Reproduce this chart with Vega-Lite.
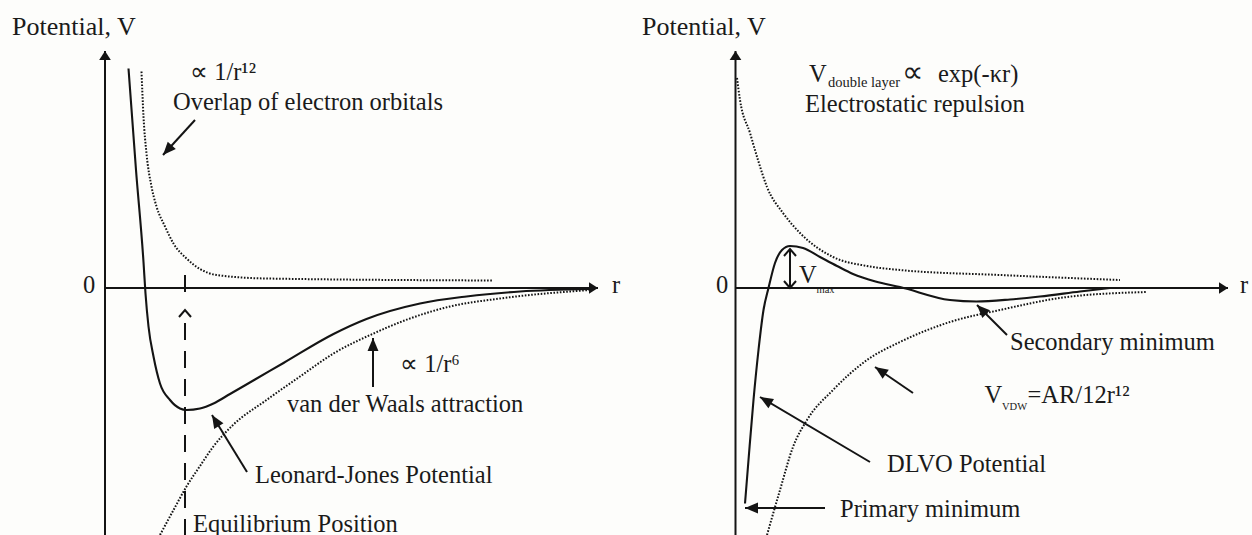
{
  "$schema": "https://vega.github.io/schema/vega-lite/v6.json",
  "background": "#fdfdfb",
  "padding": 0,
  "spacing": 0,
  "bounds": "flush",
  "config": {
    "view": {"stroke": null},
    "text": {"font": "Liberation Serif", "fontSize": 24.5, "color": "#1a1a1a", "align": "left", "baseline": "alphabetic"},
    "line": {"color": "#141414"},
    "rule": {"color": "#141414"},
    "point": {"color": "#141414", "opacity": 1}
  },
  "datasets": {
    "ljCurves": [
      {"curve": "Leonard-Jones", "r": 0.47, "V": 4.39},
      {"curve": "Leonard-Jones", "r": 0.62, "V": 2.36},
      {"curve": "Leonard-Jones", "r": 0.77, "V": 0.52},
      {"curve": "Leonard-Jones", "r": 0.81, "V": -0.11},
      {"curve": "Leonard-Jones", "r": 0.87, "V": -0.77},
      {"curve": "Leonard-Jones", "r": 0.97, "V": -1.37},
      {"curve": "Leonard-Jones", "r": 1.10, "V": -1.91},
      {"curve": "Leonard-Jones", "r": 1.30, "V": -2.24},
      {"curve": "Leonard-Jones", "r": 1.50, "V": -2.41},
      {"curve": "Leonard-Jones", "r": 1.63, "V": -2.44},
      {"curve": "Leonard-Jones", "r": 1.90, "V": -2.41},
      {"curve": "Leonard-Jones", "r": 2.17, "V": -2.31},
      {"curve": "Leonard-Jones", "r": 2.50, "V": -2.12},
      {"curve": "Leonard-Jones", "r": 3.00, "V": -1.83},
      {"curve": "Leonard-Jones", "r": 3.57, "V": -1.50},
      {"curve": "Leonard-Jones", "r": 4.57, "V": -0.92},
      {"curve": "Leonard-Jones", "r": 5.23, "V": -0.62},
      {"curve": "Leonard-Jones", "r": 6.30, "V": -0.31},
      {"curve": "Leonard-Jones", "r": 7.23, "V": -0.17},
      {"curve": "Leonard-Jones", "r": 8.30, "V": -0.07},
      {"curve": "Leonard-Jones", "r": 9.70, "V": -0.02},
      {"curve": "repulsion", "r": 0.73, "V": 4.33},
      {"curve": "repulsion", "r": 0.77, "V": 3.43},
      {"curve": "repulsion", "r": 0.83, "V": 2.69},
      {"curve": "repulsion", "r": 0.93, "V": 2.03},
      {"curve": "repulsion", "r": 1.03, "V": 1.63},
      {"curve": "repulsion", "r": 1.20, "V": 1.23},
      {"curve": "repulsion", "r": 1.37, "V": 0.89},
      {"curve": "repulsion", "r": 1.63, "V": 0.59},
      {"curve": "repulsion", "r": 1.90, "V": 0.38},
      {"curve": "repulsion", "r": 2.23, "V": 0.26},
      {"curve": "repulsion", "r": 3.23, "V": 0.19},
      {"curve": "repulsion", "r": 7.77, "V": 0.15},
      {"curve": "attraction", "r": 1.10, "V": -4.94},
      {"curve": "attraction", "r": 1.37, "V": -4.44},
      {"curve": "attraction", "r": 1.63, "V": -3.97},
      {"curve": "attraction", "r": 1.90, "V": -3.56},
      {"curve": "attraction", "r": 2.16, "V": -3.18},
      {"curve": "attraction", "r": 2.56, "V": -2.74},
      {"curve": "attraction", "r": 3.23, "V": -2.24},
      {"curve": "attraction", "r": 3.90, "V": -1.77},
      {"curve": "attraction", "r": 4.57, "V": -1.31},
      {"curve": "attraction", "r": 5.37, "V": -0.91},
      {"curve": "attraction", "r": 6.10, "V": -0.61},
      {"curve": "attraction", "r": 6.90, "V": -0.37},
      {"curve": "attraction", "r": 7.90, "V": -0.21},
      {"curve": "attraction", "r": 9.70, "V": -0.04}
    ],
    "ljArrows": [
      {"id": "V axis", "r": 0, "V": -4.94, "r2": 0, "V2": 4.74},
      {"id": "r axis", "r": 0, "V": 0, "r2": 9.86, "V2": 0},
      {"id": "overlap", "r": 1.80, "V": 3.36, "r2": 1.16, "V2": 2.66},
      {"id": "van der Waals", "r": 5.36, "V": -1.98, "r2": 5.36, "V2": -1.0},
      {"id": "Leonard-Jones", "r": 2.84, "V": -3.68, "r2": 2.14, "V2": -2.54}
    ],
    "ljLabels": [
      {"t": "∝ 1/r¹²", "r": 1.70, "V": 4.16},
      {"t": "Overlap of electron orbitals", "r": 1.36, "V": 3.56},
      {"t": "∝ 1/r⁶", "r": 5.90, "V": -1.68},
      {"t": "van der Waals attraction", "r": 3.64, "V": -2.48},
      {"t": "Leonard-Jones Potential", "r": 3.0, "V": -3.9},
      {"t": "Equilibrium Position", "r": 1.76, "V": -4.87}
    ],
    "dlvoCurves": [
      {"curve": "DLVO", "r": 0.19, "V": -4.31},
      {"curve": "DLVO", "r": 0.26, "V": -3.44},
      {"curve": "DLVO", "r": 0.36, "V": -2.24},
      {"curve": "DLVO", "r": 0.46, "V": -1.24},
      {"curve": "DLVO", "r": 0.56, "V": -0.44},
      {"curve": "DLVO", "r": 0.66, "V": 0.0},
      {"curve": "DLVO", "r": 0.79, "V": 0.50},
      {"curve": "DLVO", "r": 0.93, "V": 0.76},
      {"curve": "DLVO", "r": 1.09, "V": 0.84},
      {"curve": "DLVO", "r": 1.35, "V": 0.80},
      {"curve": "DLVO", "r": 1.69, "V": 0.62},
      {"curve": "DLVO", "r": 2.03, "V": 0.44},
      {"curve": "DLVO", "r": 2.35, "V": 0.28},
      {"curve": "DLVO", "r": 2.80, "V": 0.13},
      {"curve": "DLVO", "r": 3.29, "V": 0.02},
      {"curve": "DLVO", "r": 4.29, "V": -0.24},
      {"curve": "DLVO", "r": 4.82, "V": -0.27},
      {"curve": "DLVO", "r": 5.49, "V": -0.23},
      {"curve": "DLVO", "r": 6.09, "V": -0.17},
      {"curve": "DLVO", "r": 6.89, "V": -0.07},
      {"curve": "DLVO", "r": 7.49, "V": 0.0},
      {"curve": "double layer", "r": 0.03, "V": 4.20},
      {"curve": "double layer", "r": 0.09, "V": 3.76},
      {"curve": "double layer", "r": 0.29, "V": 3.10},
      {"curve": "double layer", "r": 0.45, "V": 2.56},
      {"curve": "double layer", "r": 0.63, "V": 2.02},
      {"curve": "double layer", "r": 0.95, "V": 1.50},
      {"curve": "double layer", "r": 1.29, "V": 1.10},
      {"curve": "double layer", "r": 1.95, "V": 0.62},
      {"curve": "double layer", "r": 2.63, "V": 0.44},
      {"curve": "double layer", "r": 3.29, "V": 0.36},
      {"curve": "double layer", "r": 5.29, "V": 0.26},
      {"curve": "double layer", "r": 7.69, "V": 0.16},
      {"curve": "VDW", "r": 0.63, "V": -4.94},
      {"curve": "VDW", "r": 0.89, "V": -4.04},
      {"curve": "VDW", "r": 1.15, "V": -3.18},
      {"curve": "VDW", "r": 1.43, "V": -2.64},
      {"curve": "VDW", "r": 1.95, "V": -2.04},
      {"curve": "VDW", "r": 2.63, "V": -1.44},
      {"curve": "VDW", "r": 3.29, "V": -1.08},
      {"curve": "VDW", "r": 4.29, "V": -0.68},
      {"curve": "VDW", "r": 5.29, "V": -0.44},
      {"curve": "VDW", "r": 6.63, "V": -0.18},
      {"curve": "VDW", "r": 8.23, "V": -0.08}
    ],
    "dlvoArrows": [
      {"id": "V axis", "r": 0, "V": -4.94, "r2": 0, "V2": 4.74},
      {"id": "r axis", "r": 0, "V": 0, "r2": 9.85, "V2": 0},
      {"id": "V max", "r": 1.09, "V": 0.0, "r2": 1.09, "V2": 0.78},
      {"id": "Secondary minimum", "r": 5.43, "V": -0.94, "r2": 4.83, "V2": -0.34},
      {"id": "V VDW", "r": 3.55, "V": -2.10, "r2": 2.79, "V2": -1.58},
      {"id": "DLVO Potential", "r": 2.69, "V": -3.48, "r2": 0.49, "V2": -2.18},
      {"id": "Primary minimum", "r": 1.79, "V": -4.40, "r2": 0.19, "V2": -4.40}
    ],
    "dlvoLabels": [
      {"t": "V", "r": 1.47, "V": 4.12},
      {"t": "exp(-κr)", "r": 4.05, "V": 4.12},
      {"t": "Electrostatic repulsion", "r": 1.39, "V": 3.52},
      {"t": "V", "r": 1.27, "V": 0.10},
      {"t": "Secondary minimum", "r": 5.49, "V": -1.24},
      {"t": "V", "r": 4.98, "V": -2.30},
      {"t": "=AR/12r¹²", "r": 5.84, "V": -2.30},
      {"t": "DLVO Potential", "r": 3.03, "V": -3.68},
      {"t": "Primary minimum", "r": 2.09, "V": -4.58}
    ],
    "dlvoSubscripts": [
      {"t": "double layer", "r": 1.85, "V": 4.02, "size": "s"},
      {"t": "max", "r": 1.62, "V": -0.10, "size": "m"},
      {"t": "VDW", "r": 5.33, "V": -2.44, "size": "m"}
    ]
  },
  "hconcat": [
    {
      "width": 626,
      "height": 535,
      "encoding": {
        "x": {"field": "r", "type": "quantitative", "scale": {"domain": [-2.1, 10.42], "nice": false, "zero": false}, "axis": null},
        "y": {"field": "V", "type": "quantitative", "scale": {"domain": [-4.94, 5.76], "nice": false, "zero": false}, "axis": null}
      },
      "layer": [
        {
          "data": {"name": "ljCurves"},
          "transform": [{"filter": "datum.curve === 'Leonard-Jones'"}],
          "mark": {"type": "line", "strokeWidth": 2.1, "interpolate": "monotone"}
        },
        {
          "data": {"name": "ljCurves"},
          "transform": [{"filter": "datum.curve !== 'Leonard-Jones'"}],
          "mark": {"type": "line", "strokeWidth": 2, "strokeDash": [1.6, 1.6], "interpolate": "monotone"},
          "encoding": {"detail": {"field": "curve"}}
        },
        {
          "data": {"values": [
            {"r": 1.6, "V": 0.26, "r2": 1.6, "V2": -0.1},
            {"r": 1.6, "V": -0.7, "r2": 1.6, "V2": -4.94}
          ]},
          "mark": {"type": "rule", "strokeWidth": 2, "strokeDash": [17, 11]},
          "encoding": {"x2": {"field": "r2"}, "y2": {"field": "V2"}}
        },
        {
          "data": {"values": [{"r": 1.6, "V": -0.44}]},
          "mark": {"type": "point", "shape": "M-0.6,0.7L0,0L0.6,0.7", "filled": false, "size": 400, "strokeWidth": 2}
        },
        {
          "data": {"name": "ljArrows"},
          "mark": {"type": "rule", "strokeWidth": 2},
          "encoding": {"x2": {"field": "r2"}, "y2": {"field": "V2"}}
        },
        {
          "data": {"name": "ljArrows"},
          "transform": [{"filter": "datum.id === 'V axis'"}],
          "mark": {"type": "point", "shape": "M0,0L-0.65,1L0.65,1Z", "filled": true, "size": 324, "angle": 0},
          "encoding": {"x": {"field": "r2", "type": "quantitative"}, "y": {"field": "V2", "type": "quantitative"}}
        },
        {
          "data": {"name": "ljArrows"},
          "transform": [{"filter": "datum.id === 'r axis'"}],
          "mark": {"type": "point", "shape": "M0,0L-0.65,1L0.65,1Z", "filled": true, "size": 324, "angle": 90},
          "encoding": {"x": {"field": "r2", "type": "quantitative"}, "y": {"field": "V2", "type": "quantitative"}}
        },
        {
          "data": {"name": "ljArrows"},
          "transform": [{"filter": "datum.id === 'van der Waals'"}],
          "mark": {"type": "point", "shape": "M0,0L-0.42,1L0.42,1Z", "filled": true, "size": 676, "angle": 0},
          "encoding": {"x": {"field": "r2", "type": "quantitative"}, "y": {"field": "V2", "type": "quantitative"}}
        },
        {
          "data": {"name": "ljArrows"},
          "transform": [{"filter": "datum.id === 'overlap'"}],
          "mark": {"type": "point", "shape": "M0,0L-0.42,1L0.42,1Z", "filled": true, "size": 676, "angle": 222.4},
          "encoding": {"x": {"field": "r2", "type": "quantitative"}, "y": {"field": "V2", "type": "quantitative"}}
        },
        {
          "data": {"name": "ljArrows"},
          "transform": [{"filter": "datum.id === 'Leonard-Jones'"}],
          "mark": {"type": "point", "shape": "M0,0L-0.42,1L0.42,1Z", "filled": true, "size": 676, "angle": 328.4},
          "encoding": {"x": {"field": "r2", "type": "quantitative"}, "y": {"field": "V2", "type": "quantitative"}}
        },
        {
          "data": {"name": "ljLabels"},
          "mark": {"type": "text"},
          "encoding": {"text": {"field": "t"}}
        },
        {
          "data": {"values": [{"t": "Potential, V", "r": -1.86, "V": 5.06}]},
          "mark": {"type": "text", "fontSize": 26},
          "encoding": {"text": {"field": "t"}}
        },
        {
          "data": {"values": [{"t": "0", "r": -0.32, "V": -0.1}, {"t": "r", "r": 10.22, "V": -0.1}]},
          "mark": {"type": "text", "align": "center"},
          "encoding": {"text": {"field": "t"}}
        }
      ]
    },
    {
      "width": 626,
      "height": 535,
      "encoding": {
        "x": {"field": "r", "type": "quantitative", "scale": {"domain": [-2.19, 10.33], "nice": false, "zero": false}, "axis": null},
        "y": {"field": "V", "type": "quantitative", "scale": {"domain": [-4.94, 5.76], "nice": false, "zero": false}, "axis": null}
      },
      "layer": [
        {
          "data": {"name": "dlvoCurves"},
          "transform": [{"filter": "datum.curve === 'DLVO'"}],
          "mark": {"type": "line", "strokeWidth": 2.1, "interpolate": "monotone"}
        },
        {
          "data": {"name": "dlvoCurves"},
          "transform": [{"filter": "datum.curve !== 'DLVO'"}],
          "mark": {"type": "line", "strokeWidth": 2, "strokeDash": [1.6, 1.6], "interpolate": "monotone"},
          "encoding": {"detail": {"field": "curve"}}
        },
        {
          "data": {"name": "dlvoArrows"},
          "mark": {"type": "rule", "strokeWidth": 2},
          "encoding": {"x2": {"field": "r2"}, "y2": {"field": "V2"}}
        },
        {
          "data": {"name": "dlvoArrows"},
          "transform": [{"filter": "datum.id === 'V axis'"}],
          "mark": {"type": "point", "shape": "M0,0L-0.65,1L0.65,1Z", "filled": true, "size": 324, "angle": 0},
          "encoding": {"x": {"field": "r2", "type": "quantitative"}, "y": {"field": "V2", "type": "quantitative"}}
        },
        {
          "data": {"name": "dlvoArrows"},
          "transform": [{"filter": "datum.id === 'r axis'"}],
          "mark": {"type": "point", "shape": "M0,0L-0.65,1L0.65,1Z", "filled": true, "size": 324, "angle": 90},
          "encoding": {"x": {"field": "r2", "type": "quantitative"}, "y": {"field": "V2", "type": "quantitative"}}
        },
        {
          "data": {"name": "dlvoArrows"},
          "transform": [{"filter": "datum.id === 'V max'"}],
          "mark": {"type": "point", "shape": "M-0.6,0.7L0,0L0.6,0.7", "filled": false, "size": 400, "strokeWidth": 2, "angle": 0},
          "encoding": {"x": {"field": "r2", "type": "quantitative"}, "y": {"field": "V2", "type": "quantitative"}}
        },
        {
          "data": {"name": "dlvoArrows"},
          "transform": [{"filter": "datum.id === 'V max'"}],
          "mark": {"type": "point", "shape": "M-0.6,0.7L0,0L0.6,0.7", "filled": false, "size": 400, "strokeWidth": 2, "angle": 180}
        },
        {
          "data": {"name": "dlvoArrows"},
          "transform": [{"filter": "datum.id === 'Secondary minimum'"}],
          "mark": {"type": "point", "shape": "M0,0L-0.42,1L0.42,1Z", "filled": true, "size": 676, "angle": 315},
          "encoding": {"x": {"field": "r2", "type": "quantitative"}, "y": {"field": "V2", "type": "quantitative"}}
        },
        {
          "data": {"name": "dlvoArrows"},
          "transform": [{"filter": "datum.id === 'V VDW'"}],
          "mark": {"type": "point", "shape": "M0,0L-0.42,1L0.42,1Z", "filled": true, "size": 676, "angle": 304.4},
          "encoding": {"x": {"field": "r2", "type": "quantitative"}, "y": {"field": "V2", "type": "quantitative"}}
        },
        {
          "data": {"name": "dlvoArrows"},
          "transform": [{"filter": "datum.id === 'DLVO Potential'"}],
          "mark": {"type": "point", "shape": "M0,0L-0.42,1L0.42,1Z", "filled": true, "size": 676, "angle": 300.6},
          "encoding": {"x": {"field": "r2", "type": "quantitative"}, "y": {"field": "V2", "type": "quantitative"}}
        },
        {
          "data": {"name": "dlvoArrows"},
          "transform": [{"filter": "datum.id === 'Primary minimum'"}],
          "mark": {"type": "point", "shape": "M0,0L-0.42,1L0.42,1Z", "filled": true, "size": 676, "angle": 270},
          "encoding": {"x": {"field": "r2", "type": "quantitative"}, "y": {"field": "V2", "type": "quantitative"}}
        },
        {
          "data": {"name": "dlvoLabels"},
          "mark": {"type": "text"},
          "encoding": {"text": {"field": "t"}}
        },
        {
          "data": {"name": "dlvoSubscripts"},
          "transform": [{"filter": "datum.size === 's'"}],
          "mark": {"type": "text", "fontSize": 14.5},
          "encoding": {"text": {"field": "t"}}
        },
        {
          "data": {"name": "dlvoSubscripts"},
          "transform": [{"filter": "datum.size === 'm'"}],
          "mark": {"type": "text", "fontSize": 10.5},
          "encoding": {"text": {"field": "t"}}
        },
        {
          "data": {"values": [{"t": "∝", "r": 3.33, "V": 4.12}]},
          "mark": {"type": "text", "fontSize": 30},
          "encoding": {"text": {"field": "t"}}
        },
        {
          "data": {"values": [{"t": "Potential, V", "r": -1.87, "V": 5.06}]},
          "mark": {"type": "text", "fontSize": 26},
          "encoding": {"text": {"field": "t"}}
        },
        {
          "data": {"values": [{"t": "0", "r": -0.27, "V": -0.1}, {"t": "r", "r": 10.17, "V": -0.1}]},
          "mark": {"type": "text", "align": "center"},
          "encoding": {"text": {"field": "t"}}
        }
      ]
    }
  ]
}
